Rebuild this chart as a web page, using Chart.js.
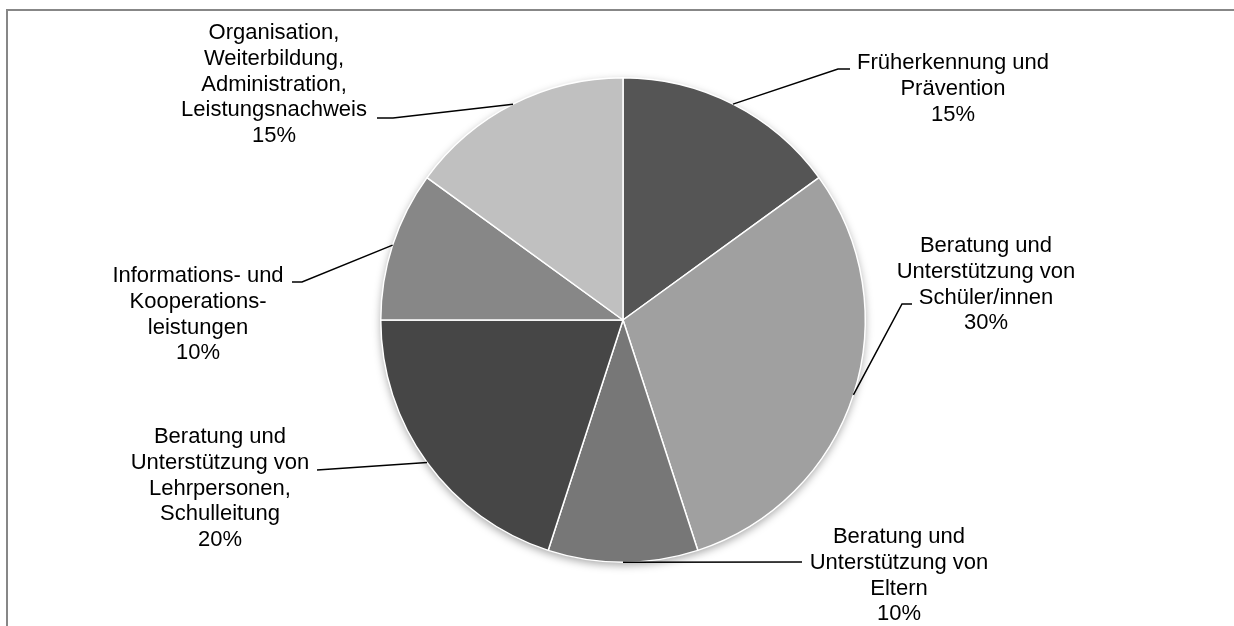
<!DOCTYPE html>
<html>
<head>
<meta charset="utf-8">
<script src="https://cdn.jsdelivr.net/npm/chart.js@4"></script>
<style>
  body { margin: 0; background: #fff; }
  #wrap { width: 1234px; height: 626px; position: relative; }
</style>
</head>
<body>
<div id="wrap"><canvas id="pieChart"></canvas></div>
<script>
// slice names, one array entry per text line
const categories = [
  ["Früherkennung und", "Prävention"],
  ["Beratung und", "Unterstützung von", "Schüler/innen"],
  ["Beratung und", "Unterstützung von", "Eltern"],
  ["Beratung und", "Unterstützung von", "Lehrpersonen,", "Schulleitung"],
  ["Informations- und", "Kooperations-", "leistungen"],
  ["Organisation,", "Weiterbildung,", "Administration,", "Leistungsnachweis"]
];
const shares = [15, 30, 10, 20, 10, 15];
const sliceColors = ["#555555", "#a0a0a0", "#777777", "#464646", "#878787", "#c0c0c0"];

// where each label sits: text centre x, first baseline, leader elbow and end
const labelLayout = [
  { x: 953, y: 69,  elbowX: 838, elbowY: 69,  endX: 850 },
  { x: 986, y: 252, elbowX: 902, elbowY: 304, endX: 912 },
  { x: 899, y: 543, elbowX: 802, elbowY: 562, endX: 802 },
  { x: 220, y: 443, elbowX: 317, elbowY: 470, endX: 317 },
  { x: 198, y: 282, elbowX: 302, elbowY: 282, endX: 292 },
  { x: 274, y: 39,  elbowX: 393, elbowY: 118, endX: 377 }
];
const lineGap = 25.8;

const pieExtras = {
  id: "pieExtras",
  beforeDraw(chart) {
    const ctx = chart.ctx;
    ctx.save();
    ctx.strokeStyle = "#878787";
    ctx.lineWidth = 2;
    ctx.beginPath();
    ctx.moveTo(7, 626);
    ctx.lineTo(7, 10);
    ctx.lineTo(1234, 10);
    ctx.stroke();
    ctx.restore();
  },
  beforeDatasetsDraw(chart) {
    const ctx = chart.ctx;
    const arc = chart.getDatasetMeta(0).data[0];
    ctx.save();
    ctx.shadowColor = "rgba(0,0,0,0.35)";
    ctx.shadowBlur = 8;
    ctx.shadowOffsetY = 3;
    ctx.fillStyle = "#fff";
    ctx.beginPath();
    ctx.arc(arc.x, arc.y, arc.outerRadius, 0, Math.PI * 2);
    ctx.fill();
    ctx.restore();
  },
  afterDatasetsDraw(chart) {
    const ctx = chart.ctx;
    const total = shares.reduce((a, b) => a + b, 0);
    ctx.save();
    chart.getDatasetMeta(0).data.forEach((arc, i) => {
      const p = arc.getProps(["x", "y", "startAngle", "endAngle", "outerRadius"], true);
      const mid = (p.startAngle + p.endAngle) / 2;
      const sx = p.x + Math.cos(mid) * p.outerRadius;
      const sy = p.y + Math.sin(mid) * p.outerRadius;
      const l = labelLayout[i];

      ctx.strokeStyle = "#000";
      ctx.lineWidth = 1.5;
      ctx.beginPath();
      ctx.moveTo(sx, sy);
      ctx.lineTo(l.elbowX, l.elbowY);
      ctx.lineTo(l.endX, l.elbowY);
      ctx.stroke();

      const lines = categories[i].concat([Math.round(shares[i] / total * 100) + "%"]);
      ctx.fillStyle = "#000";
      ctx.font = "22px 'Liberation Sans', Arial, sans-serif";
      ctx.textAlign = "center";
      ctx.textBaseline = "alphabetic";
      lines.forEach((t, j) => ctx.fillText(t, l.x, l.y + j * lineGap));
    });
    ctx.restore();
  }
};

const chart = new Chart(document.getElementById("pieChart"), {
  type: "pie",
  data: {
    labels: categories,
    datasets: [{
      data: shares,
      backgroundColor: sliceColors,
      borderColor: "#ffffff",
      borderWidth: 1.5
    }]
  },
  options: {
    responsive: true,
    maintainAspectRatio: false,
    animation: false,
    layout: { padding: { left: 380, right: 368, top: 77, bottom: 63 } },
    plugins: {
      legend: { display: false },
      tooltip: { enabled: false }
    }
  },
  plugins: [pieExtras]
});
</script>
</body>
</html>
